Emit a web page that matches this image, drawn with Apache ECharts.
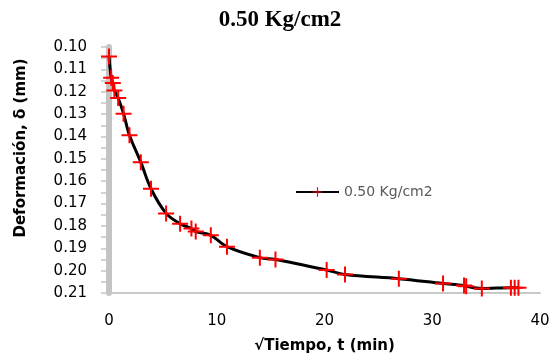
<!DOCTYPE html>
<html>
<head>
<meta charset="utf-8">
<script src="https://cdn.jsdelivr.net/npm/echarts@6/dist/echarts.min.js"></script>
<style>html,body{margin:0;padding:0;background:#fff}#c{width:556px;height:363px}</style>
</head>
<body>
<div id="c"></div>
<script>
const titleText = "0.50 Kg/cm2";
const seriesName = "0.50 Kg/cm2";
const xName = "√Tiempo, t (min)";
const yName = "Deformación, δ (mm)";
const sqrtTime = [0, 0.2, 0.35, 0.5, 0.85, 1.35, 1.9, 2.95, 3.9, 5.3, 6.6, 7.65, 8.05, 9.45, 10.95, 14.0, 15.45, 20.2, 21.9, 26.9, 31.0, 32.95, 33.15, 34.6, 37.3, 37.65, 38.0];
const deformation = [0.1042, 0.1138, 0.1161, 0.1194, 0.1228, 0.1298, 0.1395, 0.1515, 0.1634, 0.1744, 0.1790, 0.1812, 0.1825, 0.1842, 0.1893, 0.1942, 0.1950, 0.1997, 0.2017, 0.2036, 0.2057, 0.2066, 0.2070, 0.2080, 0.2076, 0.2076, 0.2076];
const xTicks = {min: 0, max: 40, interval: 10};
const yTicks = {min: 0.10, max: 0.21, interval: 0.01};

const points = sqrtTime.map((x, i) => [x, deformation[i]]);
const plus = 'path://M7,0 h2 v7 h7 v2 h-7 v7 h-2 v-7 h-7 v-2 h7 z';

const chart = echarts.init(document.getElementById('c'), null, {renderer: 'canvas'});
chart.setOption({
  animation: false,
  backgroundColor: '#fff',
  title: {
    text: titleText, left: 275, top: 4, textAlign: 'center',
    textStyle: {fontFamily: 'Liberation Serif', fontWeight: 'bold', fontSize: 23, color: '#000'}
  },
  legend: {
    left: 290, top: 180, itemWidth: 43, itemHeight: 12, itemGap: 5,
    textStyle: {fontFamily: 'DejaVu Sans', fontSize: 14, color: '#595959'},
    data: [seriesName]
  },
  grid: {left: 109, right: 16, top: 47, bottom: 70, containLabel: false},
  xAxis: {
    type: 'value', min: xTicks.min, max: xTicks.max, interval: xTicks.interval,
    name: xName, nameLocation: 'middle', nameGap: 46,
    nameTextStyle: {fontFamily: 'DejaVu Sans', fontWeight: 'bold', fontSize: 15, color: '#000'},
    axisLine: {show: true, onZero: false, lineStyle: {color: '#C8C8C8', width: 2}},
    axisTick: {show: false},
    splitLine: {show: false},
    axisLabel: {margin: 21, fontFamily: 'DejaVu Sans', fontSize: 15, color: '#000'}
  },
  yAxis: {
    type: 'value', inverse: true, min: yTicks.min, max: yTicks.max, interval: yTicks.interval,
    axisLine: {show: true, onZero: false, lineStyle: {color: '#C4C4C4', width: 6}},
    axisTick: {show: true, length: 8, lineStyle: {color: '#C4C4C4', width: 1.5}},
    minorTick: {show: true, splitNumber: 2, length: 8, lineStyle: {color: '#C4C4C4', width: 1.5}},
    splitLine: {show: false},
    axisLabel: {margin: 22, fontFamily: 'DejaVu Sans', fontSize: 15, color: '#000',
      formatter: v => v.toFixed(2)}
  },
  graphic: [{
    type: 'text', x: 21, y: 148, rotation: Math.PI / 2,
    style: {text: yName, fontFamily: 'DejaVu Sans', fontWeight: 'bold', fontSize: 15, fill: '#000',
      align: 'center', verticalAlign: 'middle'}
  }],
  series: [{
    name: seriesName, type: 'line', data: points, smooth: 0.35,
    lineStyle: {color: '#000', width: 3},
    symbol: plus, symbolSize: 16,
    itemStyle: {color: '#FF0000', borderWidth: 0},
    z: 3
  }]
});
</script>
</body>
</html>
